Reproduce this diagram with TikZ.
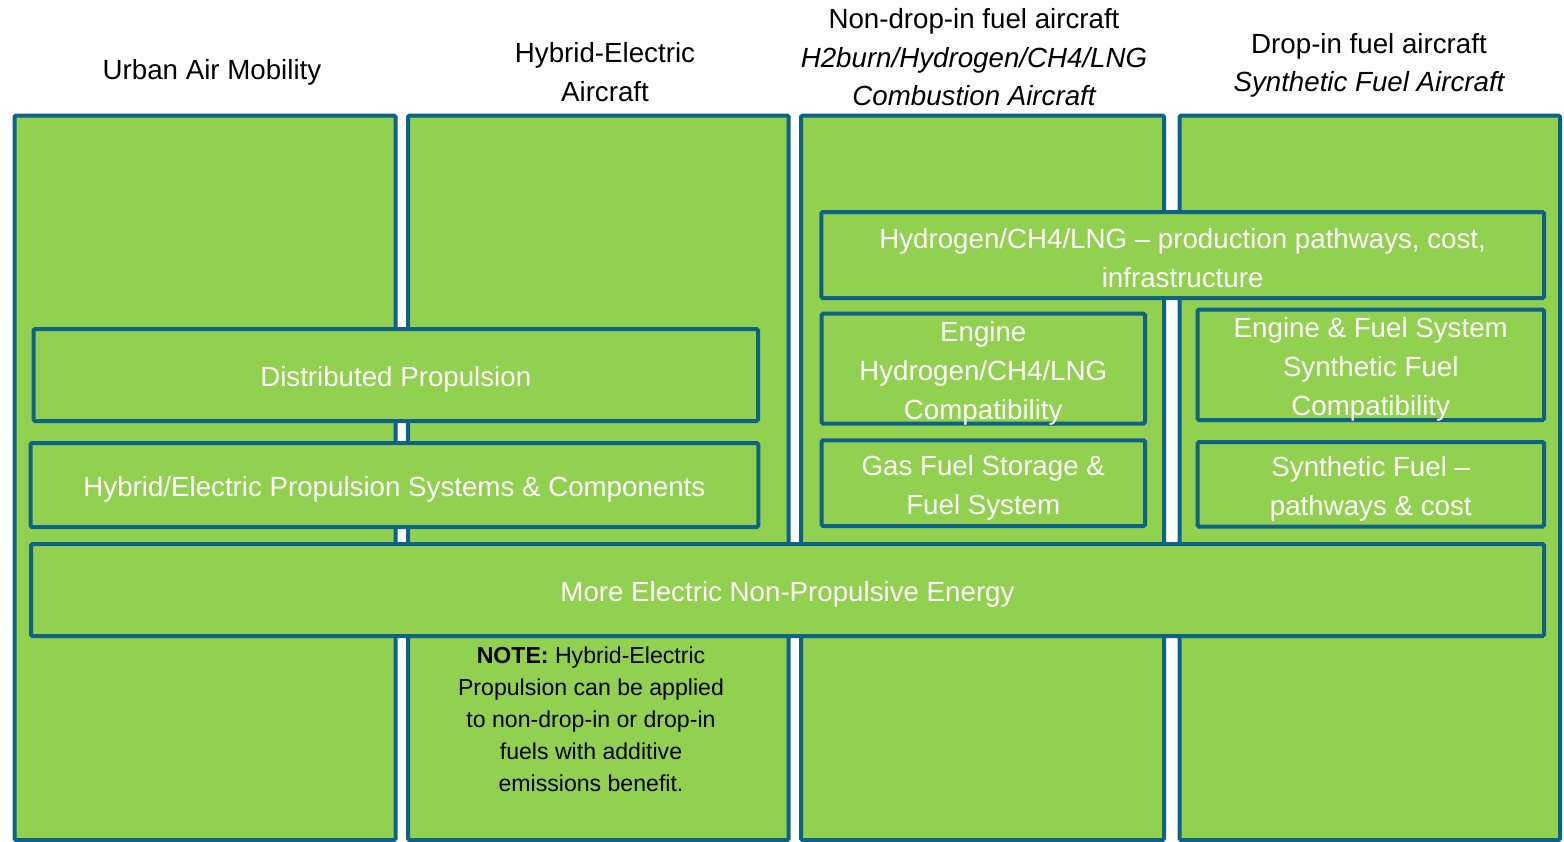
\documentclass[tikz,border=0pt]{standalone}
\usepackage{fontspec}
\setmainfont{Liberation Sans}
\definecolor{leaf}{HTML}{92D050}
\definecolor{edge}{HTML}{0E6385}
\begin{document}
\begin{tikzpicture}[x=1pt,y=-1pt,
  lane/.style={draw=edge,fill=leaf,line width=4pt,rounded corners=1.5pt,inner sep=0pt},
  topic/.style={draw=edge,fill=leaf,line width=4pt,rounded corners=1.5pt,inner sep=0pt},
  topictext/.style={text=white,align=center,inner sep=0pt,font=\fontsize{27.7}{39}\selectfont},
  head/.style={align=center,text=black,inner sep=0pt,font=\fontsize{27.7}{38.5}\selectfont},
  remark/.style={align=center,text=black,inner sep=0pt,font=\fontsize{23.1}{32}\selectfont}]
\useasboundingbox[fill=white] (0,0) rectangle (1564,841);

% four vertical lanes
\node[lane,minimum width=381pt,minimum height=724.5pt] (col1) at (205,477.75) {};
\node[lane,minimum width=380.7pt,minimum height=724.5pt] (col2) at (598.35,477.75) {};
\node[lane,minimum width=363pt,minimum height=724.5pt] (col3) at (982.5,477.75) {};
\node[lane,minimum width=380.5pt,minimum height=724.5pt] (col4) at (1369.75,477.75) {};

% lane headings
\node[head] (h1) at (212,72) {Urban Air Mobility};
\node[head] (h2) at (605,72) {Hybrid-Electric\\Aircraft};
\node[head] (h3) at (974,57.5) {Non-drop-in fuel aircraft\\\itshape H2burn/Hydrogen/CH4/LNG\\\itshape Combustion Aircraft};
\node[head] (h4) at (1369,65.5) {Drop-in fuel aircraft\\\itshape Synthetic Fuel Aircraft};

% technology topic boxes
\node[topic,minimum width=724.5pt,minimum height=92pt] (dist) at (395.75,375) {};
\node[topic,minimum width=727.8pt,minimum height=84pt] (hyb) at (394.4,485) {};
\node[topic,minimum width=1513pt,minimum height=92pt] (more) at (787.5,590) {};
\node[topic,minimum width=722.7pt,minimum height=86pt] (hyd) at (1182.65,255) {};
\node[topic,minimum width=323.5pt,minimum height=109.8pt] (engH) at (983.25,368.6) {};
\node[topic,minimum width=323.5pt,minimum height=85.7pt] (gas) at (983.25,483.15) {};
\node[topic,minimum width=346.5pt,minimum height=110.5pt] (engF) at (1370.75,364.75) {};
\node[topic,minimum width=346.5pt,minimum height=84.5pt] (syn) at (1370.75,484.25) {};

% their labels
\node[topictext] (distT) at ([yshift=-4.5pt]dist.center) {Distributed Propulsion};
\node[topictext] (hybT) at ([yshift=-4.5pt]hyb.center) {Hybrid/Electric Propulsion Systems \& Components};
\node[topictext] (moreT) at ([yshift=-4.5pt]more.center) {More Electric Non-Propulsive Energy};
\node[topictext] (hydT) at ([yshift=-3pt]hyd.center) {Hydrogen/CH4/LNG -- production pathways, cost,\\infrastructure};
\node[topictext] (engHT) at ([yshift=-4.5pt]engH.center) {Engine\\Hydrogen/CH4/LNG\\Compatibility};
\node[topictext] (gasT) at ([yshift=-4.5pt]gas.center) {Gas Fuel Storage \&\\Fuel System};
\node[topictext] (engFT) at ([yshift=-4.5pt]engF.center) {Engine \& Fuel System\\Synthetic Fuel\\Compatibility};
\node[topictext] (synT) at ([yshift=-4.5pt]syn.center) {Synthetic Fuel --\\pathways \& cost};

% note under the hybrid-electric lane
\node[remark] (note) at (591,719) {\textbf{NOTE:} Hybrid-Electric\\Propulsion can be applied\\to non-drop-in or drop-in\\fuels with additive\\emissions benefit.};
\end{tikzpicture}
\end{document}
